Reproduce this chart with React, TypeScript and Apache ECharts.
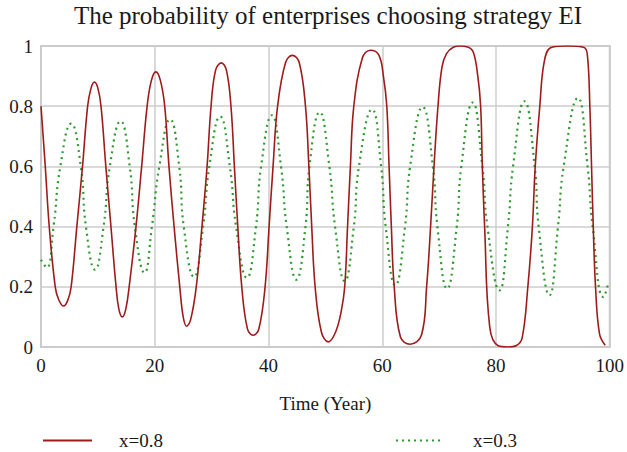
import React, { useEffect, useRef } from "react";
import * as echarts from "echarts";

const xTicks = [0, 20, 40, 60, 80, 100];
const yTicks = [0, 0.2, 0.4, 0.6, 0.8, 1];

// x=0.8 series (time, probability)
const redTime = [
  0, 0.75, 1.45, 2.5, 3.1, 3.96, 4.7, 5.3, 6.3, 7.3, 8.2, 8.8, 9.4, 10.0, 10.55, 11.4, 12.3,
  13.2, 13.7, 14.3, 14.9, 15.5, 16.7, 17.7, 18.66, 19.4, 20.2, 21.0, 21.75, 22.5, 23.4,
  24.4, 25.0, 25.6, 26.3, 27.3, 28.3, 29.2, 29.9, 30.7, 31.7, 32.6, 33.4, 34.0, 34.6,
  35.3, 36.3, 37.3, 38.3, 39.4, 40.1, 40.8, 41.6, 43.0, 44.2, 45.4, 46.5, 47.1, 47.6,
  48.2, 49.3, 50.5, 51.8, 52.8, 53.4, 53.9, 54.4, 55.0, 56.5, 57.9, 59.4, 60.2, 60.8,
  61.2, 61.6, 62.1, 63.2, 64.9, 66.9, 67.8, 68.5, 69.1, 69.8, 70.5, 71.3, 72.5, 73.7,
  75.0, 76.0, 76.8, 77.3, 77.6, 78.0, 78.9, 80.4, 82.1, 83.6, 84.6, 85.6, 86.4, 86.9,
  87.7, 88.5, 89.7, 92.5, 95.5, 96.1, 96.5, 96.8, 97.1, 97.5, 98.2, 99.2,
];
const redValue = [
  0.8, 0.6, 0.4, 0.2, 0.158, 0.136, 0.155, 0.2, 0.4, 0.6, 0.8, 0.86, 0.88, 0.86, 0.8, 0.6, 0.4,
  0.2, 0.125, 0.1, 0.125, 0.2, 0.4, 0.6, 0.8, 0.885, 0.914, 0.885, 0.8, 0.6, 0.4,
  0.2, 0.1, 0.069, 0.09, 0.2, 0.4, 0.6, 0.8, 0.92, 0.944, 0.92, 0.8, 0.6, 0.4,
  0.2, 0.06, 0.039, 0.06, 0.2, 0.4, 0.6, 0.8, 0.945, 0.969, 0.945, 0.8, 0.6, 0.4,
  0.2, 0.05, 0.017, 0.05, 0.12, 0.2, 0.4, 0.6, 0.8, 0.96, 0.986, 0.97, 0.9, 0.8,
  0.6, 0.4, 0.2, 0.033, 0.009, 0.04, 0.2, 0.4, 0.6, 0.8, 0.93, 0.975, 0.996, 1.0,
  0.997, 0.98, 0.9, 0.8, 0.6, 0.4, 0.066, 0.004, 0.0, 0.005, 0.03, 0.2, 0.4, 0.6,
  0.8, 0.95, 0.995, 1.0, 0.995, 0.963, 0.8, 0.6, 0.4, 0.2, 0.044, 0.006,
];

// x=0.3 series (time, probability)
const greenTime = [
  0, 1.0, 2.2, 3.4, 5.3, 7.0, 7.9, 9.5, 11.0, 12.1, 14.0, 15.6, 16.5, 18.2, 19.5, 20.8,
  22.7, 24.3, 25.1, 26.9, 28.5, 29.6, 31.5, 33.2, 34.3, 36.2, 37.8, 38.7, 40.6, 42.2,
  43.2, 44.9, 46.5, 47.2, 49.0, 50.7, 51.7, 53.4, 55.0, 55.9, 58.2, 59.8, 60.6, 62.3,
  64.0, 64.9, 67.1, 68.9, 69.7, 71.4, 73.1, 73.9, 75.9, 77.6, 78.5, 80.6, 82.1, 83.0,
  85.0, 86.8, 87.5, 89.4, 90.9, 91.9, 94.4, 96.1, 97.0, 98.9, 99.8,
];
const greenValue = [
  0.29, 0.264, 0.4, 0.6, 0.742, 0.6, 0.4, 0.257, 0.4, 0.6, 0.75, 0.6, 0.4, 0.247, 0.4, 0.6,
  0.756, 0.6, 0.4, 0.233, 0.4, 0.6, 0.766, 0.6, 0.4, 0.23, 0.4, 0.6, 0.77, 0.6,
  0.4, 0.224, 0.4, 0.6, 0.78, 0.6, 0.4, 0.219, 0.4, 0.6, 0.789, 0.6, 0.4, 0.205,
  0.4, 0.6, 0.797, 0.6, 0.4, 0.194, 0.4, 0.6, 0.812, 0.6, 0.4, 0.188, 0.4, 0.6,
  0.816, 0.6, 0.4, 0.172, 0.4, 0.6, 0.827, 0.6, 0.4, 0.166, 0.216,
];

const seriesNames = ["x=0.8", "x=0.3"];
const FONT = "Liberation Serif";
const TXT = "#1a1a1a";

export default function App() {
  const ref = useRef<HTMLDivElement>(null);
  useEffect(() => {
    document.body.style.margin = "0";
    const chart = echarts.init(ref.current!, undefined, { renderer: "svg" });
    const zip = (xs: number[], ys: number[]) => xs.map((x, i) => [x, ys[i]]);
    const legendBase = {
      top: 426,
      itemHeight: 14,
      itemStyle: { color: "rgba(0,0,0,0)", borderWidth: 0, opacity: 0 },
    };
    chart.setOption({
      animation: false,
      backgroundColor: "#ffffff",
      title: {
        text: "The probability of enterprises choosing strategy EI",
        left: 328,
        textAlign: "center",
        top: 3,
        padding: 0,
        textStyle: { fontFamily: FONT, fontSize: 25, fontWeight: "normal", color: TXT },
      },
      grid: {
        left: 41,
        right: 15,
        top: 46,
        bottom: 105,
        show: true,
        borderColor: "#c8c8c8",
        borderWidth: 2,
      },
      legend: [
        {
          ...legendBase,
          data: [seriesNames[0]],
          left: 37,
          itemWidth: 49,
          textStyle: { fontFamily: FONT, fontSize: 19, color: TXT, padding: [0, 0, 0, 22] },
        },
        {
          ...legendBase,
          data: [seriesNames[1]],
          left: 390,
          itemWidth: 48,
          textStyle: { fontFamily: FONT, fontSize: 19, color: TXT, padding: [0, 0, 0, 24] },
        },
      ],
      xAxis: {
        type: "value",
        min: xTicks[0],
        max: xTicks[xTicks.length - 1],
        interval: xTicks[1] - xTicks[0],
        name: "Time (Year)",
        nameLocation: "middle",
        nameGap: 47,
        nameTextStyle: { fontFamily: FONT, fontSize: 19, color: TXT },
        axisLine: { show: false },
        axisTick: { show: false },
        axisLabel: { fontFamily: FONT, fontSize: 19, color: TXT, margin: 9 },
        splitLine: { show: true, lineStyle: { color: "#cccccc", width: 1.5 } },
      },
      yAxis: {
        type: "value",
        min: yTicks[0],
        max: yTicks[yTicks.length - 1],
        interval: yTicks[1] - yTicks[0],
        axisLine: { show: false },
        axisTick: { show: false },
        axisLabel: { fontFamily: FONT, fontSize: 19, color: TXT, margin: 8 },
        splitLine: { show: true, lineStyle: { color: "#cccccc", width: 1.5 } },
      },
      series: [
        {
          name: seriesNames[0],
          type: "line",
          data: zip(redTime, redValue),
          smooth: 0.4,
          symbol: "none",
          lineStyle: { color: "#9e1b1b", width: 1.6 },
          itemStyle: { color: "#9e1b1b" },
          z: 3,
        },
        {
          name: seriesNames[1],
          type: "line",
          data: zip(greenTime, greenValue),
          smooth: 0.5,
          symbol: "none",
          lineStyle: { color: "#2f9a2f", width: 2.2, type: [2, 4] },
          itemStyle: { color: "#2f9a2f" },
          z: 2,
        },
      ],
    });
    return () => chart.dispose();
  }, []);
  return <div ref={ref} style={{ width: 627, height: 452 }} />;
}
